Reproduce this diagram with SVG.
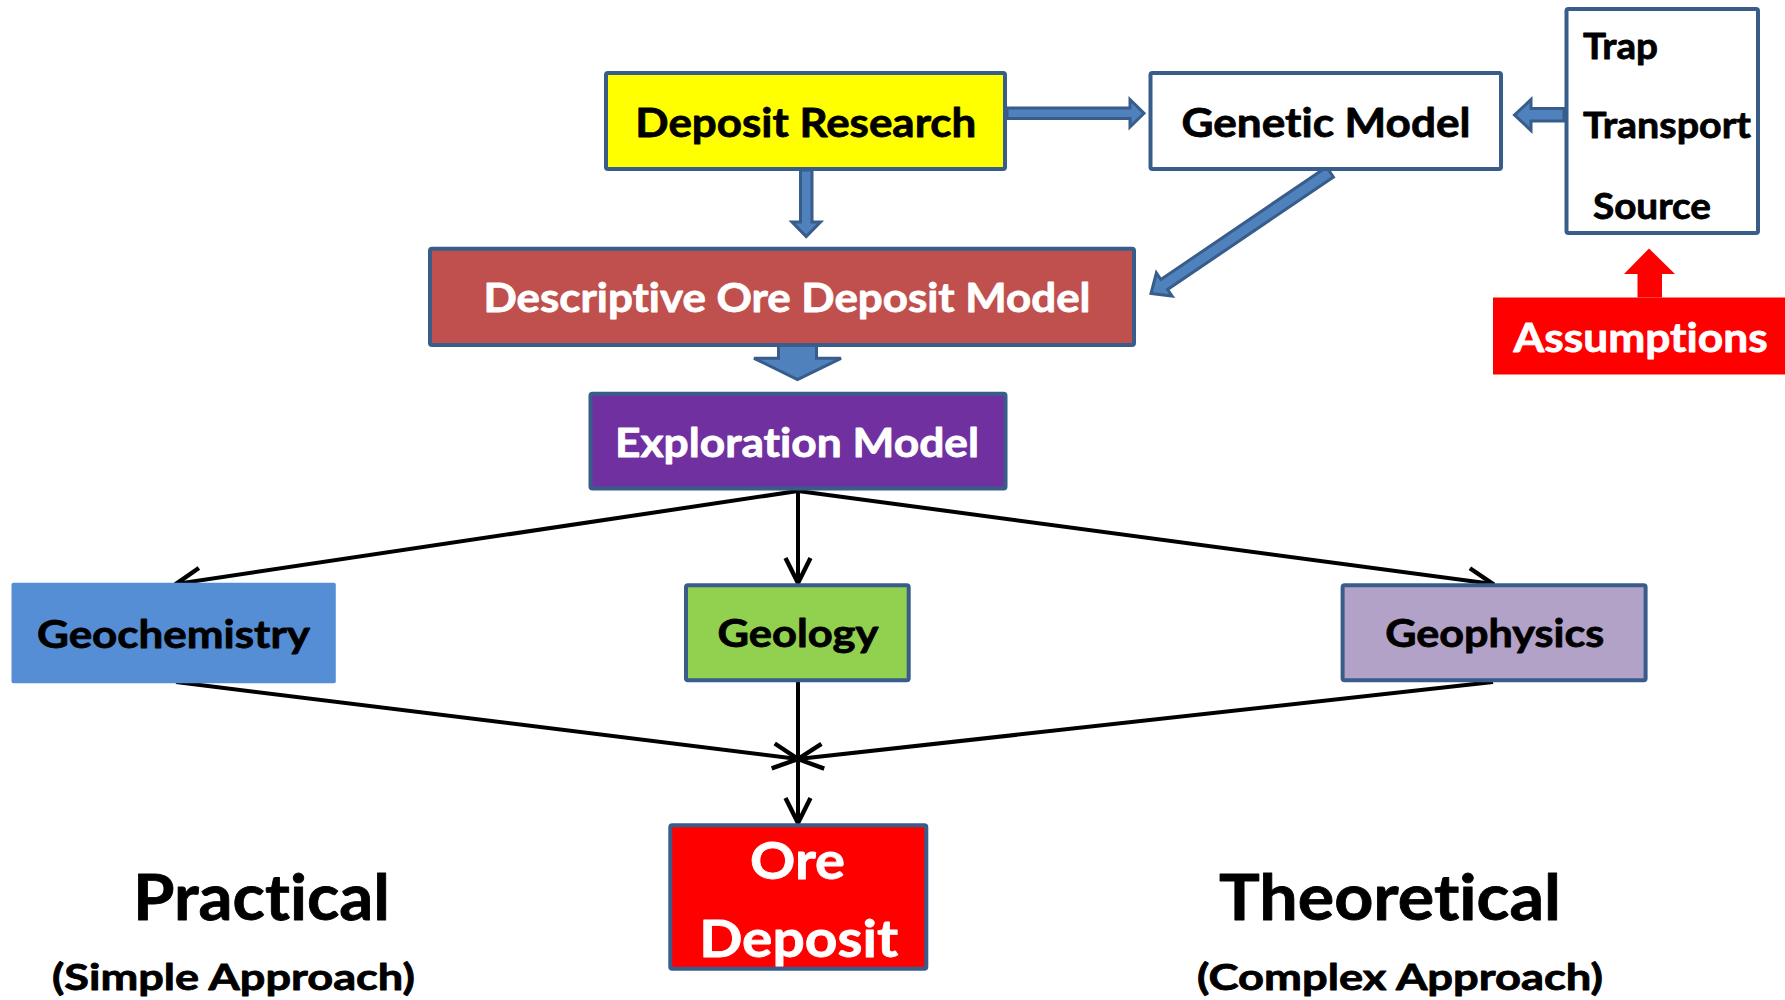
<svg xmlns="http://www.w3.org/2000/svg" width="1785" height="1000" viewBox="0 0 1785 1000">
<style>
  .t { font-family: Lato, "Liberation Sans", Arial, sans-serif; font-weight: 700; font-variant-ligatures: none; font-feature-settings: "liga" 0, "clig" 0; stroke-width: 0.8; stroke-linejoin: round; }
  .box { stroke: #385d8a; stroke-width: 4; }
  .blk { fill: #000000; stroke: #000000; }
  .wht { fill: #ffffff; stroke: #ffffff; }
  .barrow { fill: #4f81bd; stroke: #385d8a; stroke-width: 3; stroke-linejoin: miter; }
  .line { stroke: #000000; stroke-width: 4; fill: none; }
</style>
<defs>
  <marker id="open" markerUnits="userSpaceOnUse" viewBox="0 0 30 30" markerWidth="30" markerHeight="30" refX="28" refY="15" orient="auto">
    <path d="M3,2.5 L28,15 L3,27.5" fill="none" stroke="#000000" stroke-width="4.4" stroke-linejoin="miter"/>
  </marker>
</defs>
<rect x="0" y="0" width="1785" height="1000" fill="#ffffff"/>

<g id="connectors">
  <polygon class="barrow" points="1007,108 1130,108 1130,99.5 1144,113.2 1130,127 1130,118.5 1007,118.5"/>
  <polygon class="barrow" points="800.5,170 812,170 812,222 820.5,222 806.2,236.5 792,222 800.5,222"/>
  <polygon class="barrow" points="1564,108.5 1531,108.5 1531,99.5 1514.5,115 1531,130.5 1531,121 1564,121"/>
  <polygon class="barrow" points="1326.6,167 1160.9,279.5 1156.4,272.9 1151,293.5 1172.1,296.1 1167.6,289.5 1333.4,177"/>
  <polygon class="barrow" points="778.5,345 816.5,345 816.5,358.3 841,358.3 797.5,379.5 754,358.3 778.5,358.3"/>
  <polygon points="1637.5,297.5 1637.5,274 1624,274 1649,248.5 1675,274 1662,274 1662,297.5" fill="#ff0000"/>
  <line class="line" x1="798" y1="491" x2="176" y2="584" marker-end="url(#open)"/>
  <line class="line" x1="798" y1="491" x2="798" y2="583" marker-end="url(#open)"/>
  <line class="line" x1="798" y1="491" x2="1493" y2="584" marker-end="url(#open)"/>
  <line class="line" x1="176" y1="682" x2="798" y2="759" marker-end="url(#open)"/>
  <line class="line" x1="1493" y1="682" x2="798" y2="759" marker-end="url(#open)"/>
  <line class="line" x1="798" y1="682" x2="798" y2="823" marker-end="url(#open)"/>
</g>

<g id="deposit-research">
  <rect class="box" x="606" y="73" width="399" height="96" rx="2" fill="#ffff00"/>
  <text class="t blk" x="805.8" y="136.5" font-size="41" text-anchor="middle" textLength="341" lengthAdjust="spacingAndGlyphs">Deposit Research</text>
</g>

<g id="genetic-model">
  <rect class="box" x="1150.5" y="73" width="350.5" height="96" rx="2" fill="#ffffff"/>
  <text class="t blk" x="1326" y="136.5" font-size="41" text-anchor="middle" textLength="289" lengthAdjust="spacingAndGlyphs">Genetic Model</text>
</g>

<g id="trap-transport-source">
  <rect class="box" x="1566.5" y="9" width="191.5" height="224" rx="2" fill="#ffffff"/>
  <text class="t blk" x="1583" y="58.5" font-size="37" textLength="75" lengthAdjust="spacingAndGlyphs">Trap</text>
  <text class="t blk" x="1583" y="137.5" font-size="37" textLength="168" lengthAdjust="spacingAndGlyphs">Transport</text>
  <text class="t blk" x="1593" y="218.5" font-size="37" textLength="118" lengthAdjust="spacingAndGlyphs">Source</text>
</g>

<g id="assumptions">
  <rect x="1493" y="297.5" width="292" height="77" fill="#ff0000"/>
  <text class="t wht" x="1640.6" y="351.7" font-size="41" text-anchor="middle" textLength="254" lengthAdjust="spacingAndGlyphs">Assumptions</text>
</g>

<g id="descriptive-model">
  <rect class="box" x="430" y="248.7" width="704" height="96.3" rx="2" fill="#c0504d"/>
  <text class="t wht" x="787" y="311.7" font-size="40" text-anchor="middle" textLength="607" lengthAdjust="spacingAndGlyphs">Descriptive Ore Deposit Model</text>
</g>

<g id="exploration-model">
  <rect class="box" x="590.5" y="393.7" width="415" height="94.8" rx="2" fill="#7030a0"/>
  <text class="t wht" x="797" y="456.7" font-size="40" text-anchor="middle" textLength="364" lengthAdjust="spacingAndGlyphs">Exploration Model</text>
</g>

<g id="geochemistry">
  <rect x="11.5" y="582.7" width="324.3" height="100.6" rx="2" fill="#558ed5"/>
  <text class="t blk" x="173.5" y="648.3" font-size="39" text-anchor="middle" textLength="273" lengthAdjust="spacingAndGlyphs">Geochemistry</text>
</g>

<g id="geology">
  <rect class="box" x="686" y="585.3" width="222.7" height="95" rx="2" fill="#92d050"/>
  <text class="t blk" x="798" y="646.7" font-size="39" text-anchor="middle" textLength="161" lengthAdjust="spacingAndGlyphs">Geology</text>
</g>

<g id="geophysics">
  <rect class="box" x="1342.6" y="585.3" width="303" height="95" rx="2" fill="#b3a2c7"/>
  <text class="t blk" x="1494.7" y="646.7" font-size="39" text-anchor="middle" textLength="219" lengthAdjust="spacingAndGlyphs">Geophysics</text>
</g>

<g id="ore-deposit">
  <rect class="box" x="670.3" y="825.3" width="256" height="143.4" rx="2" fill="#ff0000"/>
  <text class="t wht" x="797.5" y="879.3" font-size="52.5" text-anchor="middle" textLength="95" lengthAdjust="spacingAndGlyphs">Ore</text>
  <text class="t wht" x="798.7" y="956.7" font-size="52.5" text-anchor="middle" textLength="199" lengthAdjust="spacingAndGlyphs">Deposit</text>
</g>

<g id="practical">
  <text class="t blk" x="261.5" y="920" font-size="64" text-anchor="middle" textLength="257" lengthAdjust="spacingAndGlyphs">Practical</text>
  <text class="t blk" x="233.4" y="990" font-size="36" text-anchor="middle" textLength="363" lengthAdjust="spacingAndGlyphs">(Simple Approach)</text>
</g>

<g id="theoretical">
  <text class="t blk" x="1390" y="920" font-size="64" text-anchor="middle" textLength="342" lengthAdjust="spacingAndGlyphs">Theoretical</text>
  <text class="t blk" x="1400" y="990" font-size="36" text-anchor="middle" textLength="406" lengthAdjust="spacingAndGlyphs">(Complex Approach)</text>
</g>
</svg>
